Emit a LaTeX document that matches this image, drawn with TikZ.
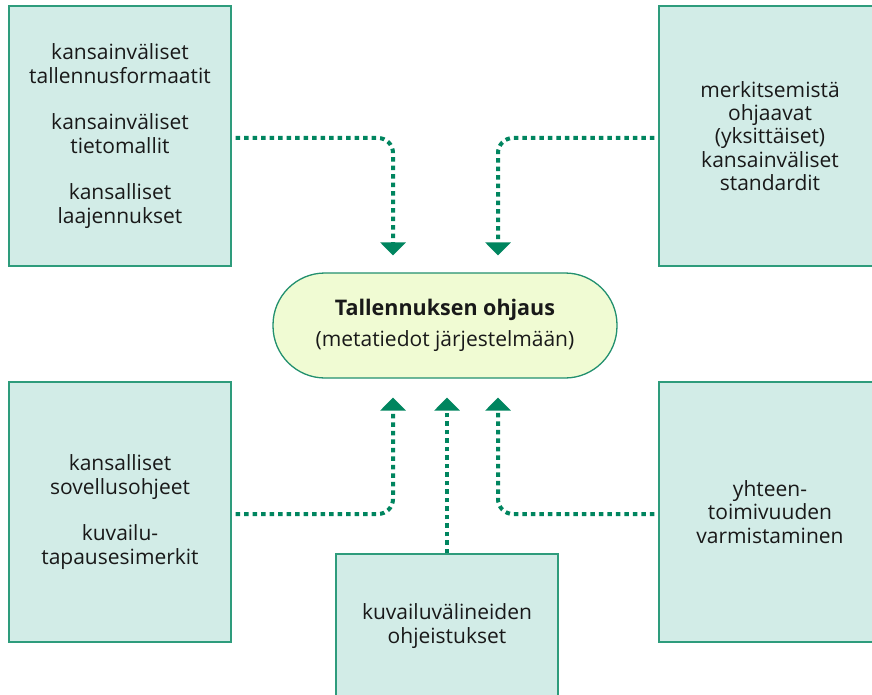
\documentclass[tikz,border=0pt]{standalone}
\usepackage{fontspec}
\setmainfont{Open Sans}
\usetikzlibrary{arrows.meta}
\definecolor{boxfill}{HTML}{D2ECE7}
\definecolor{boxline}{HTML}{2E9C7C}
\definecolor{cfill}{HTML}{F0FBD3}
\definecolor{cline}{HTML}{22906E}
\definecolor{conncol}{HTML}{00855F}
\tikzset{
  infobox/.style={draw=boxline, line width=1.2pt, fill=boxfill, align=center,
    inner sep=0pt, font=\fontsize{21}{23.3}\selectfont, text=black!90},
  centerbox/.style={draw=cline, line width=1.3pt, fill=cfill, align=center,
    rounded corners=52pt, minimum width=344pt, minimum height=105pt,
    inner sep=0pt, font=\fontsize{21}{24}\selectfont, text=black!90},
  conn/.style={draw=conncol, line width=4pt, dash pattern=on 4.5pt off 4pt,
    rounded corners=15pt, -{Triangle[width=25pt,length=13pt]}}
}
\begin{document}
\begin{tikzpicture}[x=1pt,y=-1pt]
\clip (0,0) rectangle (872,695);
\fill[white] (0,0) rectangle (872,695);

\node[infobox, minimum width=222pt, minimum height=260pt] (TL) at (120,136)
  {kansainväliset\\tallennusformaatit\\[23.5pt]kansainväliset\\tietomallit\\[23.5pt]kansalliset\\laajennukset};
\node[infobox, minimum width=222pt, minimum height=260pt] (TR) at (770,136)
  {merkitsemistä\\ohjaavat\\(yksittäiset)\\kansainväliset\\standardit};
\node[infobox, minimum width=222pt, minimum height=260pt] (BL) at (120,512)
  {kansalliset\\sovellusohjeet\\[23.5pt]kuvailu-\\tapausesimerkit};
\node[infobox, minimum width=222pt, minimum height=260pt] (BR) at (770,512)
  {yhteen-\\toimivuuden\\varmistaminen};
\node[infobox, minimum width=222pt, minimum height=144pt] (BC) at (447,626)
  {kuvailuvälineiden\\ohjeistukset};

\node[centerbox] (C) at (445,325.5)
  {{\fontsize{21.5}{24}\selectfont\bfseries Tallennuksen ohjaus}\\[7pt](metatiedot järjestelmään)};

\coordinate (t1) at ([xshift=-52pt,yshift=17pt]C.north);
\coordinate (t2) at ([xshift=53pt,yshift=17pt]C.north);
\coordinate (b1) at ([xshift=-52pt,yshift=-19pt]C.south);
\coordinate (b2) at ([xshift=53pt,yshift=-19pt]C.south);

\draw[conn] ([xshift=4pt,yshift=-2pt]TL.east) -| (t1);
\draw[conn] ([xshift=-4pt,yshift=-2pt]TR.west) -| (t2);
\draw[conn] ([xshift=4pt,yshift=-2pt]BL.east) -| (b1);
\draw[conn] ([xshift=-4pt,yshift=-2pt]BR.west) -| (b2);
\draw[conn] (BC.north) -- (BC.north |- b1);
\end{tikzpicture}
\end{document}
